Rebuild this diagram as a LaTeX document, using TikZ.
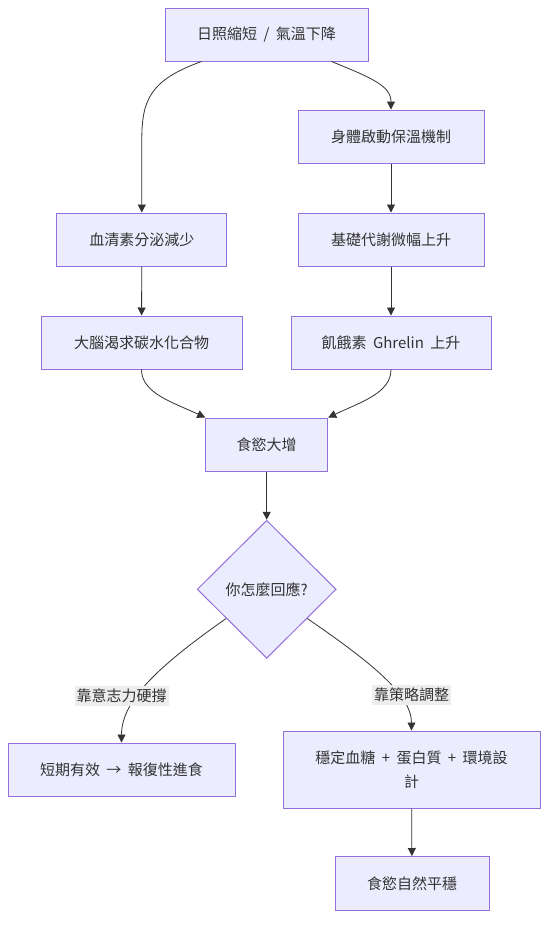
\documentclass[tikz,border=0pt]{standalone}
\usepackage{fontspec}
\setmainfont{Noto Sans CJK TC}[WordSpace=1.9]
\usetikzlibrary{arrows.meta,shapes.geometric,calc}
\definecolor{nodefill}{HTML}{ECECFF}
\definecolor{nodeline}{HTML}{9370DB}
\definecolor{txtcol}{HTML}{333333}
\definecolor{edgecol}{HTML}{333333}
\definecolor{lblbg}{HTML}{EDEDED}
\begin{document}
\begin{tikzpicture}[x=1pt,y=-1pt,
  box/.style={draw=nodeline, fill=nodefill, line width=1pt, text=txtcol,
    inner sep=0pt, minimum height=53pt, align=center,
    font=\fontsize{15}{24}\selectfont},
  dia/.style={diamond, draw=nodeline, fill=nodefill, line width=1pt, text=txtcol,
    inner sep=0pt, minimum width=139pt, minimum height=138pt,
    font=\fontsize{15}{24}\selectfont},
  link/.style={draw=edgecol, line width=0.8pt, -{Triangle[length=8pt,width=8pt]}},
  lbl/.style={fill=lblbg, text=txtcol, inner xsep=2pt, inner ysep=3pt,
    font=\fontsize{15}{18}\selectfont}
]
\useasboundingbox (0,0) rectangle (556,932);
\fill[white] (0,0) rectangle (556,932);

\node[box, minimum width=203pt] (A) at (266.5,34.5) {日照縮短 / 氣溫下降};
\node[box, minimum width=186pt] (B) at (391,136.5) {身體啟動保溫機制};
\node[box, minimum width=170pt] (C) at (141.8,239.5) {血清素分泌減少};
\node[box, minimum width=186pt] (D) at (391,239.5) {基礎代謝微幅上升};
\node[box, minimum width=201pt] (E) at (141.5,342.5) {大腦渴求碳水化合物};
\node[box, minimum width=200pt] (F) at (391,342.5) {飢餓素 Ghrelin 上升};
\node[box, minimum width=122pt] (G) at (266.7,444.5) {食慾大增};
\node[dia] (H) at (266.7,589.3) {你怎麼回應?};
\node[box, minimum width=227pt] (I) at (121.5,769.5) {短期有效 → 報復性進食};
\node[box, minimum width=257pt, minimum height=77pt] (J) at (411.5,769.5) {穩定血糖 + 蛋白質 + 環境設\\計};
\node[box, minimum width=154pt, minimum height=54pt] (K) at (412,883.5) {食慾自然平穩};

\coordinate (hl) at ($(H.west)!0.42!(H.south)$);
\coordinate (hr) at ($(H.east)!0.42!(H.south)$);

\draw[link] ([xshift=-65pt]A.south) .. controls (150,80) and (141.8,100) .. (141.8,140) -- (C.north);
\draw[link] ([xshift=65pt]A.south) .. controls (372,78) and (391,86) .. (B.north);
\draw[link] (B) -- (D);
\draw[link] (C) -- (E);
\draw[link] (D) -- (F);
\draw[link] (E.south) .. controls (141.5,393) and (172,402) .. (G.north west);
\draw[link] (F.south) .. controls (391,393) and (361,402) .. (G.north east);
\draw[link] (G) -- (H);
\draw[link] (hl) .. controls (160,665) and (121.5,700) .. (I.north);
\draw[link] (hr) .. controls (372,663) and (411.5,695) .. (J.north);
\draw[link] (J) -- (K);

\node[lbl] (lblI) at (121.5,696) {靠意志力硬撐};
\node[lbl] (lblJ) at (411.5,695) {靠策略調整};
\end{tikzpicture}
\end{document}
